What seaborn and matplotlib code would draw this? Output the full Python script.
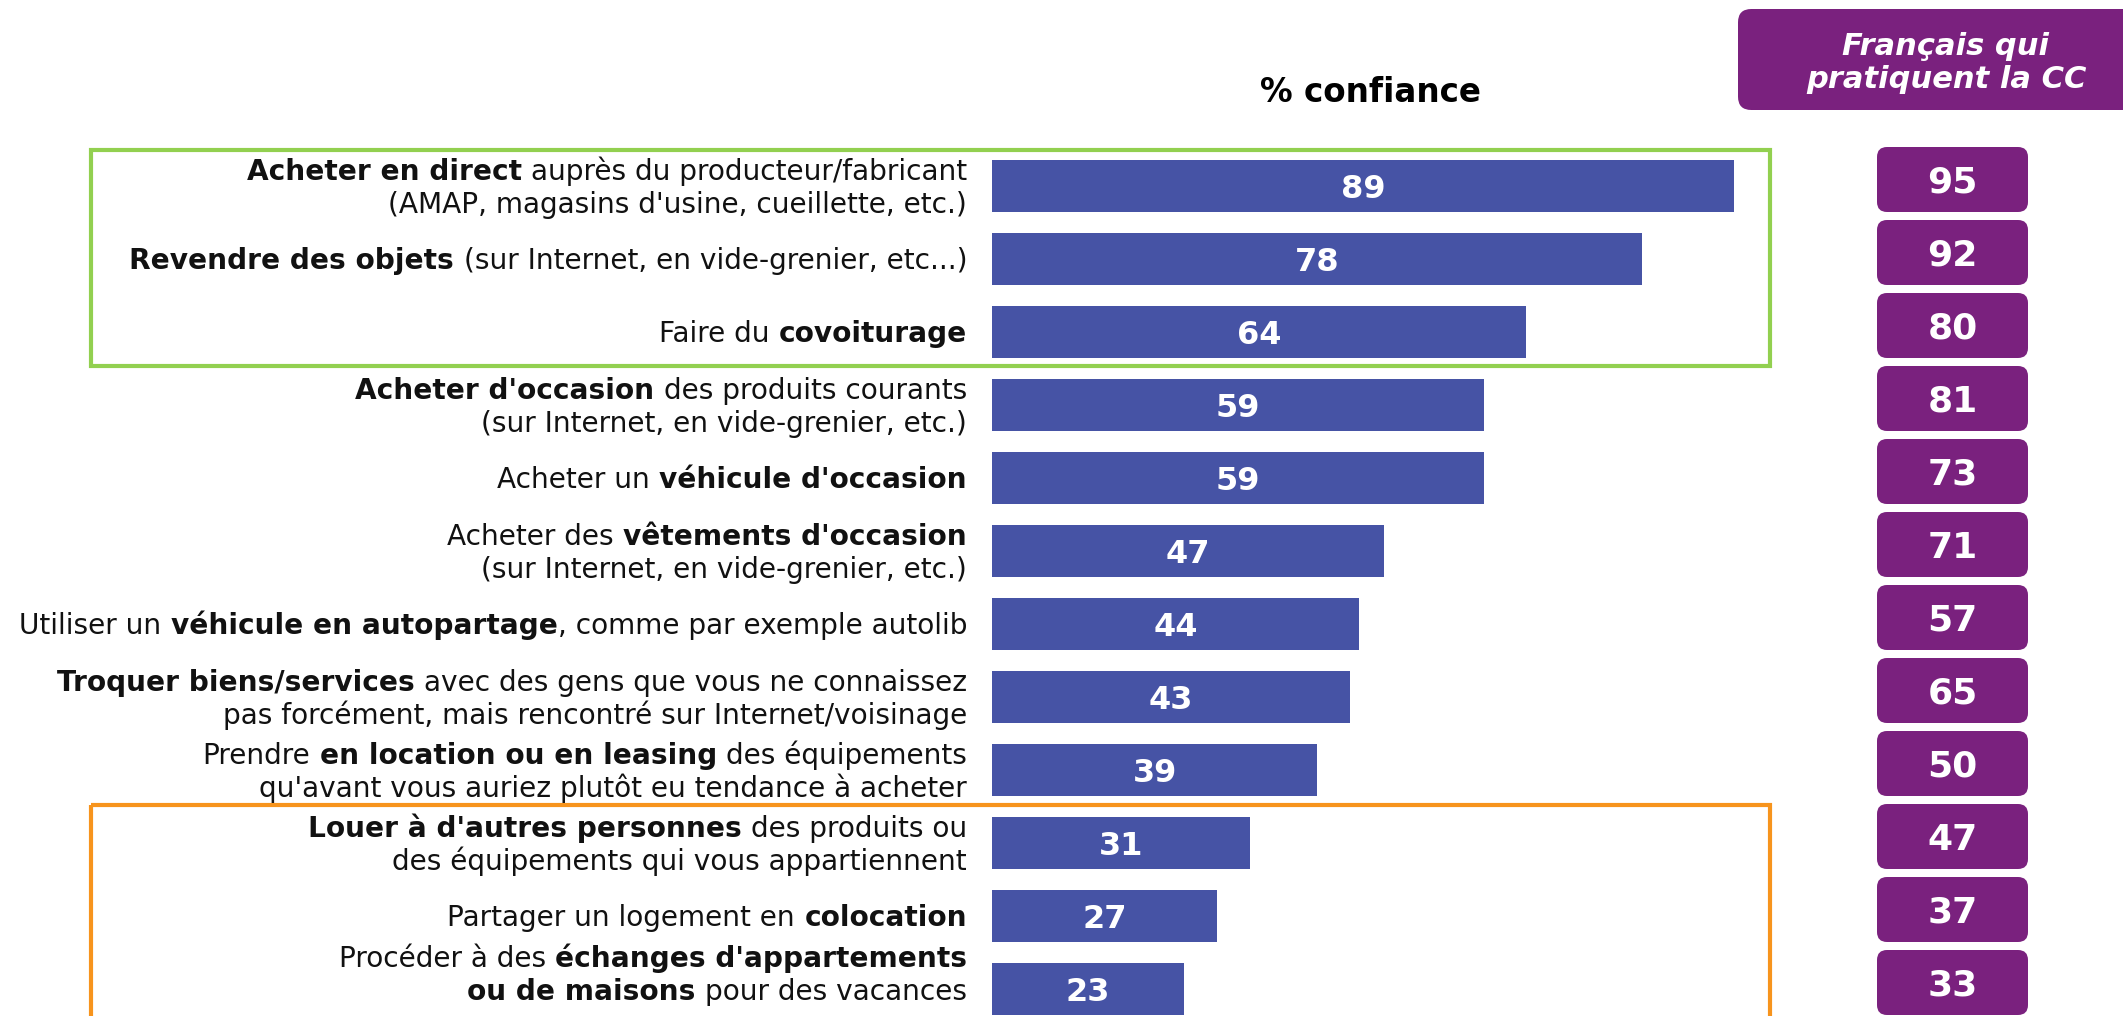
"""Confiance dans les pratiques de consommation collaborative (barres horizontales)."""
import re
import matplotlib
matplotlib.use("Agg")
import matplotlib.pyplot as plt
from matplotlib.patches import FancyBboxPatch, Rectangle
from matplotlib.transforms import IdentityTransform
import pandas as pd
import seaborn as sns

# --- data -------------------------------------------------------------------
LABELS = [
    "**Acheter en direct** auprès du producteur/fabricant\n(AMAP, magasins d'usine, cueillette, etc.)",
    "**Revendre des objets** (sur Internet, en vide-grenier, etc...)",
    "Faire du **covoiturage**",
    "**Acheter d'occasion** des produits courants\n(sur Internet, en vide-grenier, etc.)",
    "Acheter un **véhicule d'occasion**",
    "Acheter des **vêtements d'occasion**\n(sur Internet, en vide-grenier, etc.)",
    "Utiliser un **véhicule en autopartage**, comme par exemple autolib",
    "**Troquer biens/services** avec des gens que vous ne connaissez\npas forcément, mais rencontré sur Internet/voisinage",
    "Prendre **en location ou en leasing** des équipements\nqu'avant vous auriez plutôt eu tendance à acheter",
    "**Louer à d'autres personnes** des produits ou\ndes équipements qui vous appartiennent",
    "Partager un logement en **colocation**",
    "Procéder à des **échanges d'appartements**\n**ou de maisons** pour des vacances",
]
CONFIANCE = [89, 78, 64, 59, 59, 47, 44, 43, 39, 31, 27, 23]
PRATIQUANTS = [95, 92, 80, 81, 73, 71, 57, 65, 50, 47, 37, 33]
GREEN_ROWS = [0, 1, 2]
ORANGE_ROWS = [9, 10, 11]

TITLE = "% confiance"
HEADER = "Français qui\npratiquent la CC"

# --- style ------------------------------------------------------------------
BAR_BLUE = "#4653A5"
PURPLE = "#7A217E"
GREEN = "#92D050"
ORANGE = "#F7941D"

sns.set_theme(style="white")
plt.rcParams["font.family"] = ["DejaVu Sans"]

W, H, DPI = 2123, 1016, 100
PX_PER_UNIT = 8.337   # horizontal pixels per % point
ROW_PX = 73.0         # vertical pixels per row
X0_PX, Y0_PX = 992, 186  # pixel position of value 0 / first row centre
LABEL_SIZE = 20.2

fig = plt.figure(figsize=(W / DPI, H / DPI), dpi=DPI)
ax = fig.add_axes([0, 0, 1, 1])

df = pd.DataFrame({"row": [str(i) for i in range(len(CONFIANCE))], "confiance": CONFIANCE})
sns.barplot(data=df, x="confiance", y="row", orient="h", color=BAR_BLUE,
            saturation=1, width=0.71, linewidth=0, ax=ax)

ax.set_xlim(-X0_PX / PX_PER_UNIT, (W - X0_PX) / PX_PER_UNIT)
ax.set_ylim((H - Y0_PX) / ROW_PX, -Y0_PX / ROW_PX)
ax.set_axis_off()

aspect = PX_PER_UNIT / ROW_PX
renderer = fig.canvas.get_renderer()


def px_to_x(px):
    return (px - X0_PX) / PX_PER_UNIT


def px_to_y(py):
    return (py - Y0_PX) / ROW_PX


def centered_text(x, y, s, size, **kw):
    # place text so that the cap height is centred on (x, y)
    ax.annotate(s, xy=(x, y), xytext=(0, -0.365 * size), textcoords="offset points",
                ha="center", va="baseline", fontsize=size, **kw)


def rich_line(x, y, line, size):
    """Draw a right-aligned line mixing **bold** and normal pieces."""
    xd, yd = ax.transData.transform((x, y))
    em = size * DPI / 72
    yd -= 0.365 * em
    space = 0.33 * em
    pieces = [p for p in re.split(r"(\*\*.*?\*\*)", line) if p]
    for piece in reversed(pieces):
        bold = piece.startswith("**")
        text = piece[2:-2] if bold else piece
        if text.endswith(" "):
            xd -= space
        t = ax.text(xd, yd, text.strip(), transform=IdentityTransform(), ha="right",
                    va="baseline", fontsize=size, fontweight="bold" if bold else "normal",
                    color="#111111")
        xd = t.get_window_extent(renderer).x0
        if text.startswith(" "):
            xd -= space


# value labels inside bars
for i, v in enumerate(CONFIANCE):
    centered_text(v / 2, i, str(v), 23, color="white", fontweight="bold")

# category labels
label_x = px_to_x(967)
line_gap = 33 / ROW_PX
lowest_line = px_to_y(H - 26)
for i, lab in enumerate(LABELS):
    lines = lab.split("\n")
    n = len(lines)
    centre = min(i, lowest_line - (n - 1) / 2 * line_gap)
    for j, line in enumerate(lines):
        rich_line(label_x, centre + (j - (n - 1) / 2) * line_gap, line, LABEL_SIZE)

# purple column
bx0, bx1 = px_to_x(1877), px_to_x(2028)
for i, v in enumerate(PRATIQUANTS):
    cy = i - 6.5 / ROW_PX
    h = 65 / ROW_PX
    ax.add_patch(FancyBboxPatch((bx0, cy - h / 2), bx1 - bx0, h,
                                boxstyle="round,pad=0,rounding_size=1.2",
                                mutation_aspect=aspect, facecolor=PURPLE,
                                edgecolor="none", zorder=3))
    centered_text((bx0 + bx1) / 2, cy, str(v), 26, color="white", fontweight="bold", zorder=4)

# header box
hx0 = px_to_x(1738)
hy0, hy1 = px_to_y(9), px_to_y(110)
ax.add_patch(FancyBboxPatch((hx0, hy0), px_to_x(W + 40) - hx0, hy1 - hy0,
                            boxstyle="round,pad=0,rounding_size=1.6",
                            mutation_aspect=aspect, facecolor=PURPLE,
                            edgecolor="none", zorder=3, clip_on=False))
ax.text(px_to_x(1946), px_to_y(63), HEADER, ha="center", va="center", fontsize=22,
        color="white", fontweight="bold", fontstyle="italic", linespacing=1.15, zorder=4)

# column title
ax.text(px_to_x(1370), px_to_y(92), TITLE, ha="center", va="center", fontsize=23.5,
        fontweight="bold", color="black")

# group frames
fx0, fx1 = px_to_x(91), px_to_x(1770)
g0, g1 = min(GREEN_ROWS), max(GREEN_ROWS)
ax.add_patch(Rectangle((fx0, g0 - 0.493), fx1 - fx0, (g1 - g0) + 0.493 + 0.466,
                       fill=False, edgecolor=GREEN, linewidth=3, zorder=2))
o0, o1 = min(ORANGE_ROWS), max(ORANGE_ROWS)
ax.add_patch(Rectangle((fx0, o0 - 0.521), fx1 - fx0, (o1 - o0) + 0.521 + 0.8,
                       fill=False, edgecolor=ORANGE, linewidth=3, zorder=2))

fig.savefig("out.png", dpi=DPI, facecolor="white")
plt.close(fig)
